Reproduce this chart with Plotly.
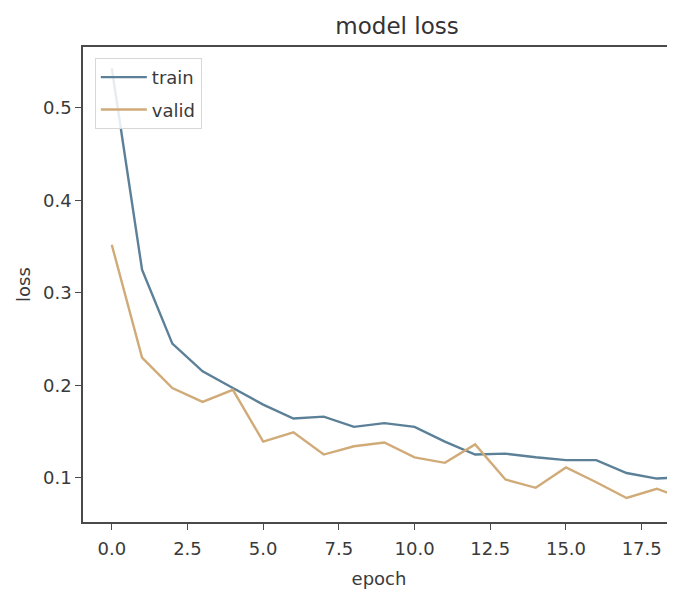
import plotly.graph_objects as go

epochs = list(range(20))
train_loss = [0.543, 0.325, 0.245, 0.215, 0.197, 0.179, 0.164, 0.166, 0.155, 0.159,
              0.155, 0.139, 0.125, 0.126, 0.122, 0.119, 0.119, 0.105, 0.099, 0.101]
valid_loss = [0.352, 0.230, 0.197, 0.182, 0.195, 0.139, 0.149, 0.125, 0.134, 0.138,
              0.122, 0.116, 0.136, 0.098, 0.089, 0.111, 0.095, 0.078, 0.088, 0.076]
x_ticks = [0.0, 2.5, 5.0, 7.5, 10.0, 12.5, 15.0, 17.5]
x_tick_labels = ["0.0", "2.5", "5.0", "7.5", "10.0", "12.5", "15.0", "17.5"]
y_ticks = [0.1, 0.2, 0.3, 0.4, 0.5]
y_tick_labels = ["0.1", "0.2", "0.3", "0.4", "0.5"]

FONT = "DejaVu Sans"
AXC = "#4a4a4a"

fig = go.Figure()
fig.add_trace(go.Scatter(x=epochs, y=train_loss, mode="lines", name="train",
                         legendgroup="a",
                         line=dict(color="#5b8098", width=2.4)))
fig.add_trace(go.Scatter(x=epochs, y=valid_loss, mode="lines", name="valid",
                         legendgroup="b",
                         line=dict(color="#d0ab78", width=2.4)))

fig.update_layout(
    width=667, height=582,
    margin=dict(l=75, r=0, t=39, b=68),
    paper_bgcolor="white", plot_bgcolor="white",
    font=dict(family=FONT, size=18, color="#3a3a3a"),
    title=dict(text="model loss", x=(397 - 8) / 667, xanchor="center",
               y=1 - 18 / 582, yanchor="middle",
               font=dict(family=FONT, size=23, color="#333333")),
    showlegend=True,
    legend=dict(x=0.02, y=0.977, xanchor="left", yanchor="top",
                bgcolor="rgba(255,255,255,0.85)", bordercolor="#d8d8d8", borderwidth=1,
                font=dict(family=FONT, size=18, color="#3a3a3a"),
                tracegroupgap=6, itemwidth=46),
)
fig.update_xaxes(
    range=[-0.95, 18.6], tickvals=x_ticks, ticktext=x_tick_labels,
    showgrid=False, zeroline=False, automargin=False,
    showline=True, linecolor=AXC, linewidth=1.6, mirror=True,
    ticks="outside", ticklen=6, tickwidth=1.4, tickcolor=AXC,
    ticklabelstandoff=4,
    title=dict(text="epoch", font=dict(family=FONT, size=18), standoff=14),
)
fig.update_yaxes(
    range=[0.052, 0.566], tickvals=y_ticks, ticktext=y_tick_labels,
    showgrid=False, zeroline=False, automargin=False,
    showline=True, linecolor=AXC, linewidth=1.6, mirror=False,
    ticks="outside", ticklen=6, tickwidth=1.4, tickcolor=AXC,
    title=dict(text="loss", font=dict(family=FONT, size=18), standoff=8),
)

fig.write_html("out.html")
